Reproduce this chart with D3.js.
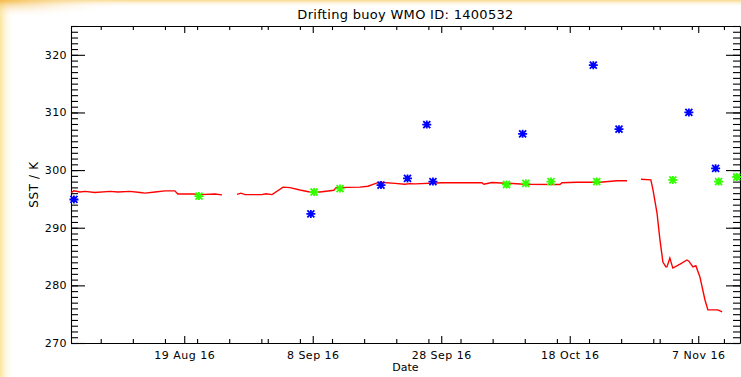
<!DOCTYPE html>
<html>
<head>
<meta charset="utf-8">
<script src="https://cdn.jsdelivr.net/npm/d3@7"></script>
<style>
  body { margin: 0; background: #fff; }
  svg text { font-family: "DejaVu Sans", sans-serif; fill: #000; }
</style>
</head>
<body>
<script>
const width = 741;
const height = 377;

// red line: buoy SST, null marks a gap in the record
const lineTimes = [
  "2016-08-01 09", "2016-08-01 20", "2016-08-02 18", "2016-08-03 13", "2016-08-05 02", "2016-08-07 11",
  "2016-08-08 16", "2016-08-10 13", "2016-08-12 03", "2016-08-12 21", "2016-08-14 11", "2016-08-16 00",
  "2016-08-17 13", "2016-08-18 00", "2016-08-20 16", "2016-08-21 11", "2016-08-23 19", "2016-08-24 21",
  null,
  "2016-08-27 05", "2016-08-27 20", "2016-08-28 11", "2016-08-31 02", "2016-08-31 17", "2016-09-01 16",
  "2016-09-03 09", "2016-09-04 11", "2016-09-06 00", "2016-09-07 13", "2016-09-09 03", "2016-09-11 07",
  "2016-09-11 15", "2016-09-15 08", "2016-09-16 14", "2016-09-17 17", "2016-09-18 11", "2016-09-20 19",
  "2016-09-22 08", "2016-09-23 03", "2016-09-23 22", "2016-09-28 03", "2016-10-04 08", "2016-10-04 15",
  "2016-10-05 21", "2016-10-11 01", "2016-10-16 11", "2016-10-16 19", "2016-10-19 03", "2016-10-22 17",
  "2016-10-25 08", "2016-10-26 22",
  null,
  "2016-10-29 02", "2016-10-30 15", "2016-10-30 23", "2016-10-31 14", "2016-11-01 01", "2016-11-01 12",
  "2016-11-01 23", "2016-11-02 03", "2016-11-02 14", "2016-11-03 01", "2016-11-04 04", "2016-11-05 06",
  "2016-11-05 13", "2016-11-06 04", "2016-11-06 15", "2016-11-07 06", "2016-11-08 01", "2016-11-08 12",
  "2016-11-10 01", "2016-11-10 17"
];
const lineSST = [
  296.1, 296.4, 296.2, 296.3, 296.1, 296.3, 296.2, 296.3, 296.1, 296.0, 296.2, 296.4,
  296.4, 295.85, 295.85, 295.75, 295.85, 295.7,
  null,
  295.8, 296.0, 295.75, 295.75, 295.9, 295.75, 297.05, 296.95, 296.55, 296.2, 296.2, 296.5,
  296.95, 297.05, 297.2, 297.65, 297.9, 297.7, 297.55, 297.65, 297.6, 297.8, 297.8, 297.55,
  297.85, 297.55, 297.5, 297.8, 297.9, 297.9, 298.15, 298.15,
  null,
  298.4, 298.3, 296.55, 292.55, 287.9, 284.05, 283.2, 283.2, 284.75, 283.0, 283.7, 284.4,
  284.2, 283.2, 283.4, 281.5, 277.5, 275.75, 275.75, 275.4
];

// blue asterisks
const blueTimes = ["2016-08-01 20", "2016-09-07 17", "2016-09-18 15", "2016-09-22 18", "2016-09-25 18",
  "2016-09-26 17", "2016-10-10 16", "2016-10-21 16", "2016-10-25 16", "2016-11-05 13", "2016-11-09 17"];
const blueSST = [294.9, 292.4, 297.4, 298.55, 307.9, 298.0, 306.3, 318.2, 307.1, 310.0, 300.3];

// green asterisks
const greenTimes = ["2016-08-21 07", "2016-09-08 05", "2016-09-12 06", "2016-10-08 04", "2016-10-11 04",
  "2016-10-15 02", "2016-10-22 05", "2016-11-03 01", "2016-11-10 04", "2016-11-13 00"];
const greenSST = [295.5, 296.2, 296.8, 297.5, 297.7, 298.0, 298.0, 298.3, 298.0, 298.8];

const yMajor = [270, 280, 290, 300, 310, 320];
const xMajor = ["2016-08-19", "2016-09-08", "2016-09-28", "2016-10-18", "2016-11-07"];

const parseT = d3.utcParse("%Y-%m-%d %H");
const parseD = d3.utcParse("%Y-%m-%d");

const mLeft = 71, mRight = 740, mTop = 26, mBottom = 343;

const x = d3.scaleUtc()
  .domain([parseT("2016-08-01 09"), parseT("2016-11-13 12")])
  .range([mLeft, mRight]);
const y = d3.scaleLinear().domain([270, 325]).range([mBottom, mTop]);

const svg = d3.select("body").append("svg")
  .attr("width", width).attr("height", height);

// soft yellow glow round the page edges
const defs = svg.append("defs");
const gl = defs.append("linearGradient").attr("id", "glowL");
gl.append("stop").attr("offset", 0).attr("stop-color", "#f8dc7a").attr("stop-opacity", 0.75);
gl.append("stop").attr("offset", 1).attr("stop-color", "#fff").attr("stop-opacity", 0);
const gt = defs.append("linearGradient").attr("id", "glowT").attr("x2", 0).attr("y2", 1);
gt.append("stop").attr("offset", 0).attr("stop-color", "#f6c85a").attr("stop-opacity", 0.7);
gt.append("stop").attr("offset", 1).attr("stop-color", "#fff").attr("stop-opacity", 0);
const gr = defs.append("radialGradient").attr("id", "glowC").attr("cx", 0).attr("cy", 0).attr("r", 1);
gr.append("stop").attr("offset", 0).attr("stop-color", "#f3b43c").attr("stop-opacity", 0.8);
gr.append("stop").attr("offset", 1).attr("stop-color", "#fff").attr("stop-opacity", 0);

svg.append("rect").attr("width", 14).attr("height", height).attr("fill", "url(#glowL)");
svg.append("rect").attr("width", width).attr("height", 7).attr("fill", "url(#glowT)");
svg.append("rect").attr("width", 130).attr("height", 18).attr("fill", "url(#glowC)");

// axes: majors + minors, ticks point inward on all four sides
const yMinor = d3.range(270, 326);
const xMinor = d3.utcDay.every(5).range(parseD("2016-08-04"), parseD("2016-11-13"));

const styleAxis = (g) => {
  g.selectAll("path,line").attr("stroke", "#000").attr("stroke-width", 1.1);
  g.selectAll("text").attr("font-family", "DejaVu Sans, sans-serif").attr("fill", "#000");
};

svg.append("g").attr("transform", `translate(${mLeft},0)`)
  .call(d3.axisLeft(y).tickValues(yMinor).tickSize(-7).tickSizeOuter(0).tickFormat(""))
  .call(styleAxis);
svg.append("g").attr("transform", `translate(${mLeft},0)`)
  .call(d3.axisLeft(y).tickValues(yMajor).tickSize(-14).tickSizeOuter(0).tickPadding(4))
  .call(g => g.select(".domain").remove())
  .call(styleAxis)
  .selectAll("text").attr("font-size", 11).attr("letter-spacing", 0.4);

svg.append("g").attr("transform", `translate(${mRight},0)`)
  .call(d3.axisRight(y).tickValues(yMinor).tickSize(-7).tickSizeOuter(0).tickFormat(""))
  .call(styleAxis);
svg.append("g").attr("transform", `translate(${mRight},0)`)
  .call(d3.axisRight(y).tickValues(yMajor).tickSize(-14).tickSizeOuter(0).tickFormat(""))
  .call(g => g.select(".domain").remove())
  .call(styleAxis);

svg.append("g").attr("transform", `translate(0,${mBottom})`)
  .call(d3.axisBottom(x).tickValues(xMinor).tickSize(-4).tickSizeOuter(0).tickFormat(""))
  .call(styleAxis);
svg.append("g").attr("transform", `translate(0,${mBottom})`)
  .call(d3.axisBottom(x).tickValues(xMajor.map(parseD)).tickSize(-7).tickSizeOuter(0)
    .tickPadding(8).tickFormat(d3.utcFormat("%-d %b %y")))
  .call(g => g.select(".domain").remove())
  .call(styleAxis)
  .selectAll("text").attr("font-size", 11).attr("letter-spacing", 0.5);

svg.append("g").attr("transform", `translate(0,${mTop})`)
  .call(d3.axisTop(x).tickValues(xMinor).tickSize(-4).tickSizeOuter(0).tickFormat(""))
  .call(styleAxis);
svg.append("g").attr("transform", `translate(0,${mTop})`)
  .call(d3.axisTop(x).tickValues(xMajor.map(parseD)).tickSize(-7).tickSizeOuter(0).tickFormat(""))
  .call(g => g.select(".domain").remove())
  .call(styleAxis);

// titles
svg.append("text")
  .attr("x", (mLeft + mRight) / 2).attr("y", 19)
  .attr("text-anchor", "middle").attr("font-size", 13).attr("letter-spacing", 0.3)
  .text("Drifting buoy WMO ID: 1400532");
svg.append("text")
  .attr("x", (mLeft + mRight) / 2).attr("y", 371)
  .attr("text-anchor", "middle").attr("font-size", 11)
  .text("Date");
svg.append("text")
  .attr("transform", `translate(38,${(mTop + mBottom) / 2}) rotate(-90)`)
  .attr("text-anchor", "middle").attr("font-size", 12).attr("letter-spacing", 0.6)
  .text("SST / K");

// red SST line
const lineData = lineTimes.map((t, i) => ({ t: t && parseT(t), v: lineSST[i] }));
svg.append("path")
  .datum(lineData)
  .attr("fill", "none")
  .attr("stroke", "#ff0000")
  .attr("stroke-width", 1.4)
  .attr("d", d3.line().defined(d => d.t !== null).x(d => x(d.t)).y(d => y(d.v)));

// asterisk markers
const star = "M-4.5,0H4.5M-3.5,-3.5L3.5,3.5M-3.5,3.5L3.5,-3.5M0,-4V4";
const drawStars = (times, vals, colour) => {
  svg.append("g")
    .selectAll("path")
    .data(times.map((t, i) => ({ t: parseT(t), v: vals[i] })))
    .join("path")
    .attr("transform", d => `translate(${x(d.t)},${y(d.v)})`)
    .attr("d", star)
    .attr("fill", "none")
    .attr("stroke", colour)
    .attr("stroke-width", 1.8);
};
drawStars(greenTimes, greenSST, "#33ff00");
drawStars(blueTimes, blueSST, "#0000ff");
</script>
</body>
</html>
